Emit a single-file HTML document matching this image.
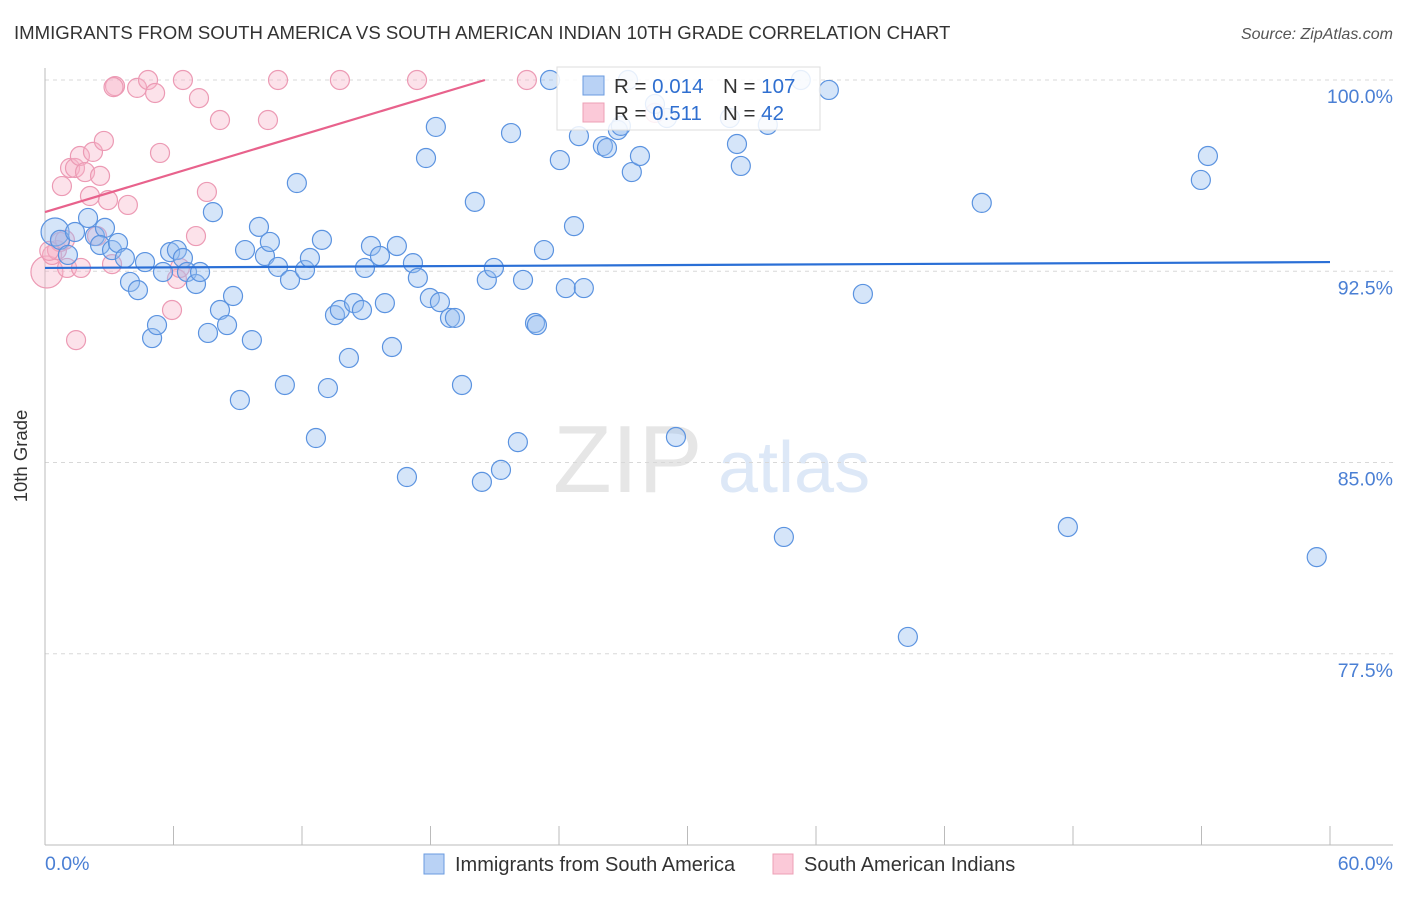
<!DOCTYPE html>
<html><head><meta charset="utf-8"><style>
body{margin:0;background:#fff;font-family:"Liberation Sans",sans-serif;}
svg text{font-family:"Liberation Sans",sans-serif;}
</style></head><body>
<svg id="c" width="1406" height="892" xmlns="http://www.w3.org/2000/svg">
<text x="14" y="39" font-size="18.6" fill="#333">IMMIGRANTS FROM SOUTH AMERICA VS SOUTH AMERICAN INDIAN 10TH GRADE CORRELATION CHART</text>
<text x="1393" y="39" font-size="16" fill="#555" font-style="italic" text-anchor="end">Source: ZipAtlas.com</text>
<g>
<text x="553" y="492" font-size="96" font-family="Liberation Serif" fill="#e6e6e6">ZIP</text>
<text x="718" y="492" font-size="72" fill="#dde8f7">atlas</text>
</g>
<g id="grid"></g>
<g id="pts"></g>
<g id="lines"></g>
<text x="27" y="456" font-size="18.5" fill="#333" text-anchor="middle" transform="rotate(-90 27 456)">10th Grade</text>
<text x="45" y="870" font-size="19.5" fill="#4a7fd4">0.0%</text>
<text x="1393" y="870" font-size="19.5" fill="#4a7fd4" text-anchor="end">60.0%</text>
<g>
<rect x="557" y="67" width="263" height="63" fill="rgba(255,255,255,0.85)" stroke="#ddd"/>
<rect x="583" y="76" width="21" height="19" fill="#b9d2f5" stroke="#6a9be0"/>
<rect x="583" y="103" width="21" height="19" fill="#fbc9d8" stroke="#eca0b6"/>
<text x="614" y="93" font-size="20.5" fill="#333">R = <tspan fill="#2f6fd0">0.014</tspan></text>
<text x="723" y="93" font-size="20.5" fill="#333">N = <tspan fill="#2f6fd0">107</tspan></text>
<text x="614" y="120" font-size="20.5" fill="#333">R = <tspan fill="#2f6fd0"> 0.511</tspan></text>
<text x="723" y="120" font-size="20.5" fill="#333">N = <tspan fill="#2f6fd0"> 42</tspan></text>
</g>
<g>
<rect x="424" y="854" width="20" height="20" fill="#b9d2f5" stroke="#6a9be0"/>
<text x="455" y="871" font-size="20" fill="#333">Immigrants from South America</text>
<rect x="773" y="854" width="20" height="20" fill="#fbc9d8" stroke="#eca0b6"/>
<text x="804" y="871" font-size="20" fill="#333">South American Indians</text>
</g>
</svg>
<script>
const yTicks=[100,92.5,85,77.5];
const yTickLabels=["100.0%","92.5%","85.0%","77.5%"];
const xTicks=[0,6,12,18,24,30,36,42,48,54,60];
const blueX=[0.47,0.70,1.07,2.01,1.40,2.33,2.80,2.57,3.13,3.41,3.73,3.97,4.34,4.67,5.00,5.23,5.51,5.84,6.16,6.44,6.63,7.05,7.24,7.61,7.84,8.17,8.50,8.78,9.10,9.34,9.66,9.99,10.27,10.50,10.88,11.20,11.44,11.76,12.14,12.37,12.65,12.93,13.21,13.54,13.77,14.19,14.43,14.80,14.94,15.22,15.64,15.87,16.20,16.43,16.90,17.18,17.41,17.79,17.97,18.25,18.44,18.91,19.14,19.47,20.07,20.40,20.63,20.96,21.29,21.76,22.08,22.32,22.88,22.97,23.30,23.58,24.04,24.32,24.70,24.93,25.16,26.05,26.24,26.75,26.89,27.40,27.78,28.48,29.04,29.46,31.98,32.31,32.49,33.75,34.50,35.29,36.60,38.19,40.29,43.74,47.76,53.97,54.30,59.38,27.22];
const blueY=[94.04,93.73,93.14,94.59,94.04,93.88,94.20,93.53,93.33,93.61,93.02,92.08,91.76,92.86,89.88,90.39,92.47,93.25,93.33,93.02,92.47,92.00,92.47,90.08,94.82,90.98,90.39,91.53,87.45,93.33,89.80,94.24,93.10,93.65,92.67,88.04,92.16,95.96,92.55,93.02,85.96,93.73,87.92,90.78,90.98,89.10,91.25,90.98,92.63,93.49,93.10,91.25,89.53,93.49,84.43,92.82,92.24,96.94,91.45,98.16,91.29,90.67,90.67,88.04,95.22,84.24,92.16,92.63,84.71,97.92,85.80,92.16,90.47,90.39,93.33,100,96.86,91.84,94.27,97.80,91.84,97.41,97.33,98.04,98.20,96.39,97.02,99.06,98.51,86.00,98.51,97.49,96.63,98.24,82.08,100,99.61,91.61,78.16,95.18,82.47,96.08,97.02,81.29,100];
const pinkX=[0.09,0.33,0.56,0.70,0.93,1.03,0.79,1.17,1.40,1.63,1.87,2.10,2.24,2.43,2.57,2.75,2.94,3.13,3.27,3.87,4.30,4.81,5.14,5.37,5.93,6.16,6.44,6.30,7.05,7.19,7.56,8.17,10.41,10.88,13.77,17.37,22.50,1.45,1.68,28.48,3.20,0.20];
const pinkY=[92.47,93.14,93.33,93.65,93.73,92.63,95.84,96.55,96.55,97.02,96.39,95.45,97.18,93.88,96.24,97.61,95.29,92.78,99.76,95.10,99.69,100,99.49,97.14,90.98,92.20,100,92.63,93.88,99.29,95.61,98.43,98.43,100,100,100,100,89.80,92.63,98.71,99.72,93.30];
const blueTrend=[92.63,92.86];
const pinkTrend=[94.82,100];
const pinkTrendEndX=20.54;
const NS="http://www.w3.org/2000/svg";
const X0=45,X1=1330,Y100=80,PXY=25.5;
const sx=v=>X0+(X1-X0)*v/60;
const sy=v=>Y100+(100-v)*PXY;
function mk(tag,attrs,parent){const e=document.createElementNS(NS,tag);for(const k in attrs)e.setAttribute(k,attrs[k]);parent.appendChild(e);return e;}
const grid=document.getElementById('grid');
yTicks.forEach((t,i)=>{
 const l=mk('line',{x1:X0,x2:1393,y1:sy(t),y2:sy(t),stroke:'#d8d8d8','stroke-dasharray':'4,4'},grid);
 
 
 const tx=mk('text',{x:1393,y:sy(t)+23,'font-size':19.5,fill:'#4a7fd4','text-anchor':'end'},grid);
 tx.textContent=yTickLabels[i];
 
 
});
const ax=mk('line',{x1:X0,x2:1393,y1:845,y2:845,stroke:'#bbb'},grid);


const ay=mk('line',{x1:X0,x2:X0,y1:68,y2:845,stroke:'#bbb'},grid);


xTicks.forEach(t=>{
 const l=mk('line',{x1:sx(t),x2:sx(t),y1:826,y2:845,stroke:'#bbb'},grid);
 
 
});
const pts=document.getElementById('pts');
pinkX.forEach((x,i)=>{
 const c=mk('circle',{cx:sx(x),cy:sy(pinkY[i]),r:i==0?16:9.5,fill:'rgba(246,178,200,0.38)',stroke:'#ec9ab4','stroke-width':1.2},pts);
 
 
});
blueX.forEach((x,i)=>{
 const c=mk('circle',{cx:sx(x),cy:sy(blueY[i]),r:i==0?14:9.5,fill:'rgba(150,190,240,0.4)',stroke:'#5b93e0','stroke-width':1.2},pts);
 
 
});
const lines=document.getElementById('lines');
const bl=mk('line',{x1:sx(0),x2:sx(60),y1:sy(blueTrend[0]),y2:sy(blueTrend[1]),stroke:'#2a6fd6','stroke-width':2.2},lines);


const pl=mk('line',{x1:sx(0),x2:sx(pinkTrendEndX),y1:sy(pinkTrend[0]),y2:sy(pinkTrend[1]),stroke:'#e8628c','stroke-width':2.2},lines);


</script>
</body></html>
